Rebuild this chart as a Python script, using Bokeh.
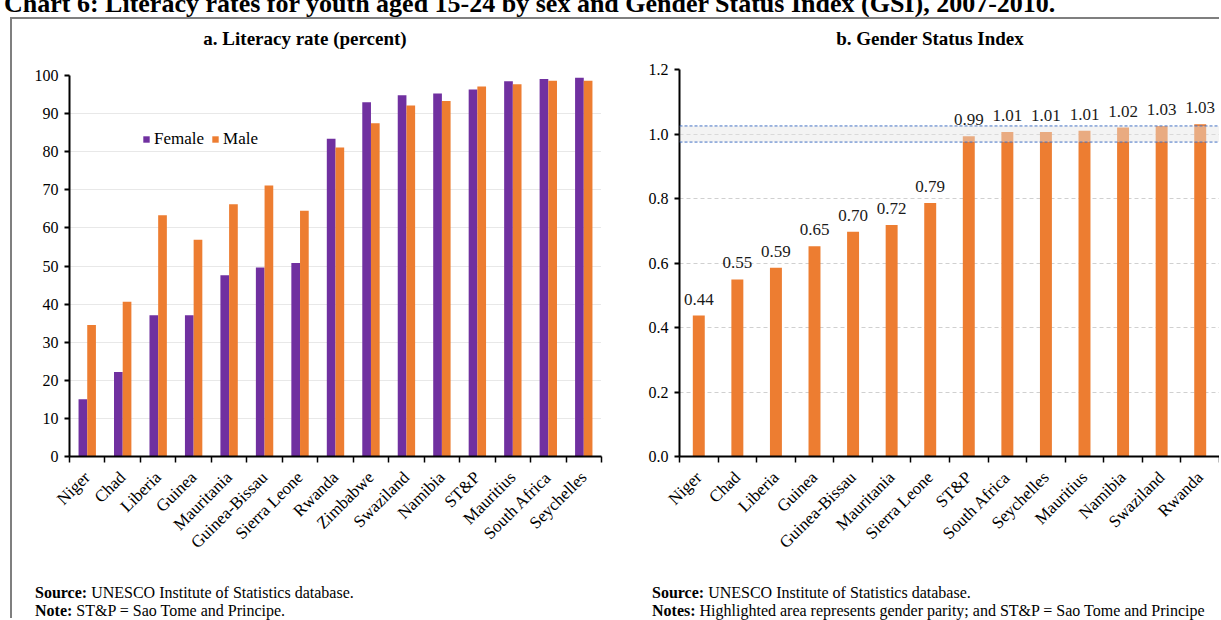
import math
from bokeh.plotting import figure
from bokeh.models import (ColumnDataSource, FixedTicker, Div, BoxAnnotation, Span,
                          Legend, LegendItem, Range1d, NumeralTickFormatter)
from bokeh.layouts import column, row
from bokeh.embed import file_html
from bokeh.resources import INLINE
from bokeh.core.properties import value

# ---------------- data ----------------
lit_countries = ["Niger", "Chad", "Liberia", "Guinea", "Mauritania", "Guinea-Bissau",
                 "Sierra Leone", "Rwanda", "Zimbabwe", "Swaziland", "Namibia", "ST&P",
                 "Mauritius", "South Africa", "Seychelles"]
female = [15.0, 22.2, 37.1, 37.1, 47.6, 49.6, 50.8, 83.4, 93.0, 94.8, 95.3, 96.3, 98.5, 99.1, 99.4]
male = [34.5, 40.6, 63.3, 56.9, 66.2, 71.1, 64.5, 81.1, 87.5, 92.1, 93.3, 97.1, 97.7, 98.6, 98.6]

gsi_countries = ["Niger", "Chad", "Liberia", "Guinea", "Guinea-Bissau", "Mauritania",
                 "Sierra Leone", "ST&P", "South Africa", "Seychelles", "Mauritius",
                 "Namibia", "Swaziland", "Rwanda"]
gsi = [0.437, 0.549, 0.585, 0.652, 0.697, 0.718, 0.786, 0.993, 1.006, 1.006, 1.010, 1.020, 1.025, 1.030]
gsi_labels = ["0.44", "0.55", "0.59", "0.65", "0.70", "0.72", "0.79", "0.99", "1.01", "1.01",
              "1.01", "1.02", "1.03", "1.03"]

lit_ticks = [0, 10, 20, 30, 40, 50, 60, 70, 80, 90, 100]
gsi_ticks = [0.0, 0.2, 0.4, 0.6, 0.8, 1.0, 1.2]
parity_low, parity_high = 0.975, 1.025

FONT = "Liberation Serif"
PURPLE = "#7030A0"
ORANGE = "#ED7D31"


def style_axes(p, grid_dash):
    p.outline_line_color = None
    p.xgrid.visible = False
    p.ygrid.grid_line_color = "#D0D0D0"
    p.ygrid.grid_line_dash = grid_dash
    p.ygrid.grid_line_width = 1
    for ax in (p.xaxis[0], p.yaxis[0]):
        ax.axis_line_color = "black"
        ax.axis_line_width = 2
        ax.major_label_text_font = FONT
        ax.major_label_text_color = "black"
    p.yaxis.major_tick_out = 5
    p.yaxis.major_tick_in = 0
    p.yaxis.major_tick_line_color = "black"
    p.yaxis.major_tick_line_width = 2
    p.yaxis.minor_tick_line_color = None
    p.yaxis.major_label_text_font_size = "16px"
    p.yaxis.major_label_standoff = 6
    p.xaxis.major_tick_line_color = None
    p.xaxis.minor_tick_line_color = "black"
    p.xaxis.minor_tick_line_width = 1.5
    p.xaxis.minor_tick_out = 6
    p.xaxis.minor_tick_in = 0
    p.xaxis.major_label_orientation = math.pi / 4
    p.xaxis.major_label_text_font_size = "17px"
    p.xaxis.major_label_standoff = 12
    if "frame_align" in p.properties():
        p.frame_align = False


# ---------------- left: literacy ----------------
n1 = len(lit_countries)
idx1 = list(range(n1))
bw1 = 0.245
src1 = ColumnDataSource(dict(
    xf=[i - bw1 / 2 for i in idx1],
    xm=[i + bw1 / 2 for i in idx1],
    female=female, male=male))

p1 = figure(width=608, height=527, output_backend="svg", toolbar_location=None,
            x_range=Range1d(-0.5, n1 - 0.5), y_range=Range1d(0, 100),
            min_border_left=57, min_border_right=19, min_border_top=22, min_border_bottom=124,
            background_fill_color="white", border_fill_color="white")
p1.title = None
rf = p1.vbar(x="xf", top="female", width=bw1, source=src1, fill_color=PURPLE, line_color=None)
rm = p1.vbar(x="xm", top="male", width=bw1, source=src1, fill_color=ORANGE, line_color=None)
style_axes(p1, "1 1")
p1.yaxis.ticker = FixedTicker(ticks=lit_ticks)
p1.xaxis.ticker = FixedTicker(ticks=idx1, minor_ticks=[i - 0.5 for i in range(n1 + 1)])
p1.xaxis.major_label_overrides = {i: c for i, c in enumerate(lit_countries)}

legend = Legend(items=[LegendItem(label="Female", renderers=[rf]),
                       LegendItem(label="Male", renderers=[rm])],
                orientation="horizontal", location=(73, 307),
                border_line_color=None, background_fill_alpha=0,
                label_text_font=FONT, label_text_font_size="17px", label_text_color="black",
                glyph_width=8, glyph_height=8, label_standoff=4, spacing=7,
                padding=0, margin=0, label_height=20)
p1.add_layout(legend)

# ---------------- right: GSI ----------------
n2 = len(gsi_countries)
idx2 = list(range(n2))
src2 = ColumnDataSource(dict(x=idx2, gsi=gsi, lab=gsi_labels))

p2 = figure(width=599, height=527, output_backend="svg", toolbar_location=None,
            x_range=Range1d(-0.5, n2 - 0.5), y_range=Range1d(0, 1.2),
            min_border_left=59, min_border_right=0, min_border_top=16, min_border_bottom=124,
            background_fill_color="white", border_fill_color="white")
p2.title = None
p2.vbar(x="x", top="gsi", width=0.31, source=src2, fill_color=ORANGE, line_color=None)
p2.add_layout(BoxAnnotation(bottom=parity_low, top=parity_high, fill_color="#E4E4E4",
                            fill_alpha=0.45, line_alpha=0))
for loc in (parity_low, parity_high):
    p2.add_layout(Span(location=loc, dimension="width", line_color="#4472C4",
                       line_dash="3 2", line_width=1))
p2.text(x="x", y="gsi", text="lab", source=src2, text_align="center",
        text_baseline="bottom", y_offset=-11, text_font=value(FONT),
        text_font_size="17px", text_color="#1a1a1a")
style_axes(p2, "4 3")
p2.yaxis.ticker = FixedTicker(ticks=gsi_ticks)
p2.yaxis.formatter = NumeralTickFormatter(format="0.0")
p2.xaxis.ticker = FixedTicker(ticks=idx2, minor_ticks=[i - 0.5 for i in range(n2 + 1)])
p2.xaxis.major_label_overrides = {i: c for i, c in enumerate(gsi_countries)}

# ---------------- texts ----------------
title = Div(width=1221, height=17, margin=0, text=(
    f'<div style="font-family:\'{FONT}\';font-weight:bold;font-size:26px;line-height:26px;'
    'margin-top:-14px;margin-left:4px;white-space:nowrap;color:black;">'
    'Chart 6: Literacy rates for youth aged 15-24 by sex and Gender Status Index (GSI), 2007-2010.'
    '</div>'))


def subtitle(txt, width, center):
    return Div(width=width, height=34, margin=0, text=(
        f'<div style="font-family:\'{FONT}\';font-weight:bold;font-size:19px;line-height:22px;'
        f'padding-top:9px;margin-left:{center - 200}px;width:400px;text-align:center;'
        f'white-space:nowrap;color:black;">{txt}</div>'))


sub1 = subtitle("a. Literacy rate (percent)", 608, 293)
sub2 = subtitle("b. Gender Status Index", 599, 310)


def footer(lines, width, left):
    html = "<br>".join(lines)
    return Div(width=width, height=38, margin=0, text=(
        f'<div style="font-family:\'{FONT}\';font-size:16px;line-height:18px;padding-top:4px;'
        f'margin-left:{left}px;white-space:nowrap;color:black;">{html}</div>'))


foot1 = footer(["<b>Source:</b> UNESCO Institute of Statistics database.",
                "<b>Note:</b> ST&amp;P = Sao Tome and Principe."], 608, 23)
foot2 = footer(["<b>Source:</b> UNESCO Institute of Statistics database.",
                "<b>Notes:</b> Highlighted area represents gender parity; and ST&amp;P = Sao Tome and Principe"],
               599, 32)

framed = column(row(sub1, sub2), row(p1, p2), row(foot1, foot2),
                styles={"border-left": "2px solid #7F7F7F", "border-top": "2px solid #7F7F7F"},
                margin=(0, 0, 0, 10))
layout = column(title, framed)

open("out.html", "w").write(file_html(layout, INLINE))
